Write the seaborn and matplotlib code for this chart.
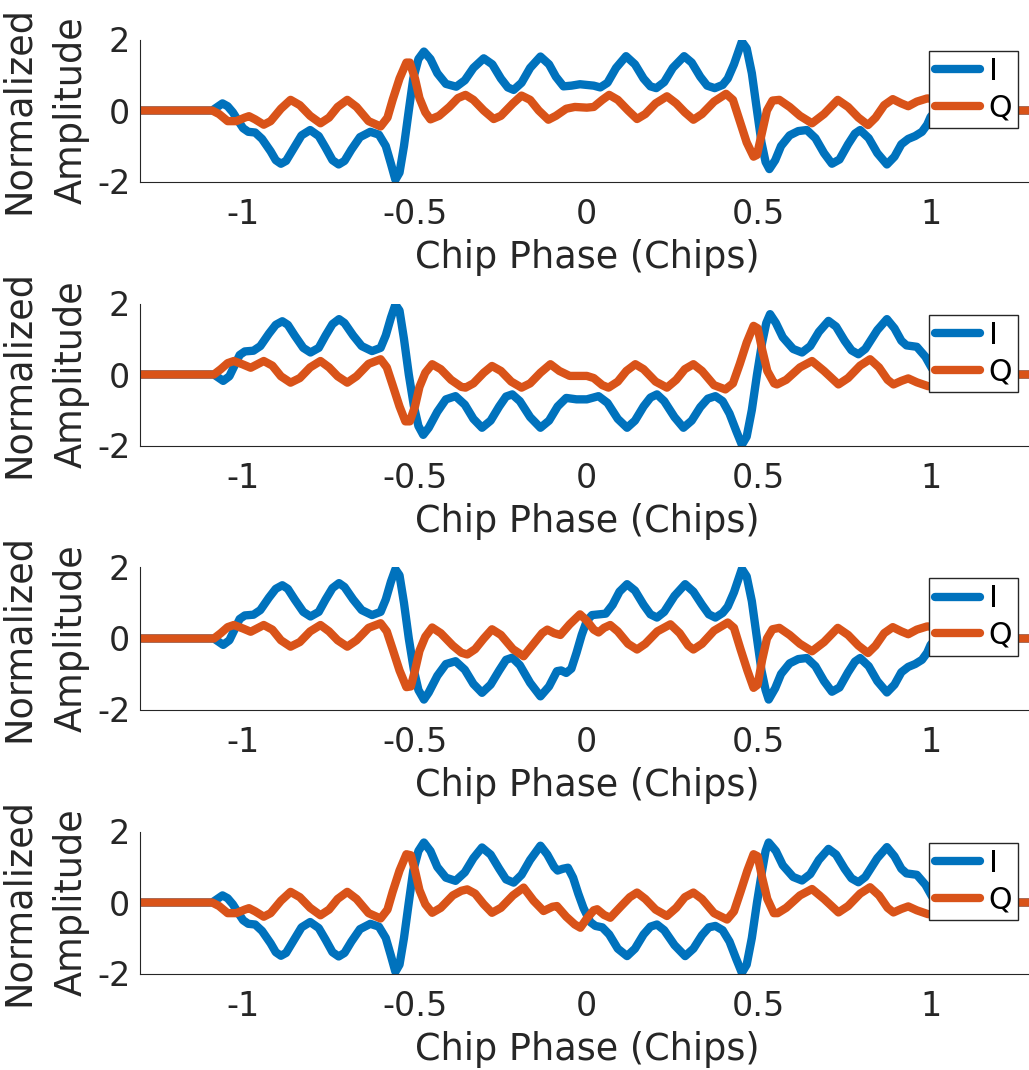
import matplotlib
matplotlib.use("Agg")
import matplotlib.pyplot as plt
import pandas as pd
import seaborn as sns

# Valores: (fase do chip, amplitude normalizada)
# Painel 1
i_painel1 = [(-1.30, 0.0), (-1.09, 0.0), (-1.075, 0.1), (-1.06, 0.2), (-1.045, 0.12), (-1.03, -0.05),
             (-1.015, -0.28), (-1.0, -0.5), (-0.985, -0.6), (-0.965, -0.62), (-0.945, -0.8), (-0.92, -1.15),
             (-0.905, -1.4), (-0.89, -1.5), (-0.875, -1.42), (-0.855, -1.1), (-0.83, -0.7), (-0.805, -0.55),
             (-0.78, -0.72), (-0.76, -1.05), (-0.74, -1.4), (-0.722, -1.52), (-0.705, -1.42), (-0.685, -1.1),
             (-0.66, -0.75), (-0.63, -0.6), (-0.605, -0.68), (-0.585, -1.0), (-0.57, -1.5), (-0.557, -1.95),
             (-0.545, -1.75), (-0.532, -1.0), (-0.518, 0.0), (-0.505, 0.9), (-0.49, 1.45), (-0.474, 1.66),
             (-0.455, 1.45), (-0.435, 1.05), (-0.41, 0.75), (-0.38, 0.67), (-0.355, 0.85), (-0.33, 1.2),
             (-0.30, 1.47), (-0.275, 1.3), (-0.25, 0.9), (-0.23, 0.65), (-0.213, 0.58), (-0.19, 0.78),
             (-0.165, 1.2), (-0.135, 1.52), (-0.11, 1.3), (-0.09, 0.95), (-0.068, 0.68), (-0.045, 0.7),
             (-0.02, 0.74), (0.0, 0.72), (0.02, 0.7), (0.039, 0.65), (0.06, 0.78), (0.085, 1.2), (0.114, 1.53),
             (0.14, 1.3), (0.165, 0.9), (0.185, 0.68), (0.202, 0.63), (0.225, 0.8), (0.25, 1.2), (0.283, 1.53),
             (0.305, 1.35), (0.33, 0.95), (0.35, 0.7), (0.372, 0.63), (0.395, 0.72), (0.41, 0.9), (0.428, 1.3),
             (0.451, 1.94), (0.465, 1.75), (0.48, 1.05), (0.495, 0.0), (0.508, -0.9), (0.52, -1.45),
             (0.531, -1.65), (0.548, -1.4), (0.565, -1.0), (0.59, -0.7), (0.615, -0.58), (0.64, -0.55),
             (0.665, -0.78), (0.69, -1.2), (0.713, -1.5), (0.735, -1.38), (0.76, -0.95), (0.78, -0.65),
             (0.795, -0.55), (0.82, -0.78), (0.845, -1.2), (0.873, -1.52), (0.895, -1.3), (0.915, -0.95),
             (0.935, -0.8), (0.955, -0.72), (0.975, -0.6), (0.99, -0.4), (1.0, -0.18), (1.02, 0.05),
             (1.045, 0.18), (1.065, 0.1), (1.09, 0.0), (1.30, 0.0)]
q_painel1 = [(-1.30, 0.0), (-1.09, 0.0), (-1.07, -0.1), (-1.045, -0.3), (-1.02, -0.3), (-0.995, -0.2),
             (-0.983, -0.16), (-0.965, -0.25), (-0.94, -0.4), (-0.92, -0.3), (-0.89, 0.05), (-0.862, 0.3),
             (-0.835, 0.15), (-0.805, -0.15), (-0.775, -0.36), (-0.75, -0.2), (-0.725, 0.1), (-0.697, 0.3),
             (-0.67, 0.1), (-0.635, -0.3), (-0.6, -0.45), (-0.58, -0.2), (-0.565, 0.3), (-0.545, 0.9),
             (-0.525, 1.35), (-0.515, 1.35), (-0.5, 0.9), (-0.487, 0.35), (-0.47, -0.05), (-0.455, -0.25),
             (-0.43, -0.15), (-0.4, 0.1), (-0.375, 0.35), (-0.353, 0.44), (-0.33, 0.3), (-0.3, 0.0),
             (-0.271, -0.24), (-0.25, -0.15), (-0.215, 0.2), (-0.19, 0.42), (-0.165, 0.3), (-0.14, 0.0),
             (-0.112, -0.26), (-0.09, -0.15), (-0.06, 0.05), (-0.035, 0.1), (0.0, 0.08), (0.02, 0.1),
             (0.045, 0.3), (0.065, 0.44), (0.09, 0.3), (0.12, 0.0), (0.146, -0.24), (0.17, -0.1), (0.2, 0.2),
             (0.233, 0.4), (0.26, 0.2), (0.285, -0.05), (0.31, -0.26), (0.335, -0.1), (0.37, 0.25),
             (0.405, 0.47), (0.425, 0.3), (0.445, -0.3), (0.465, -0.9), (0.485, -1.3), (0.495, -1.25),
             (0.51, -0.6), (0.524, 0.0), (0.54, 0.28), (0.56, 0.3), (0.59, 0.1), (0.62, -0.15), (0.655, -0.36),
             (0.69, -0.1), (0.73, 0.3), (0.76, 0.1), (0.79, -0.2), (0.818, -0.41), (0.84, -0.2), (0.865, 0.15),
             (0.89, 0.32), (0.915, 0.2), (0.935, 0.12), (0.96, 0.25), (0.99, 0.34), (1.02, 0.32), (1.045, 0.3),
             (1.07, 0.1), (1.09, 0.0), (1.30, 0.0)]

# Painel 2
i_painel2 = [(-1.30, 0.0), (-1.085, 0.0), (-1.07, -0.1), (-1.058, -0.18), (-1.04, -0.05), (-1.025, 0.25),
             (-1.01, 0.55), (-0.995, 0.65), (-0.97, 0.67), (-0.95, 0.8), (-0.925, 1.15), (-0.905, 1.4),
             (-0.886, 1.5), (-0.87, 1.4), (-0.85, 1.1), (-0.825, 0.75), (-0.804, 0.62), (-0.78, 0.75),
             (-0.76, 1.1), (-0.74, 1.42), (-0.721, 1.56), (-0.705, 1.45), (-0.68, 1.1), (-0.655, 0.8),
             (-0.625, 0.66), (-0.6, 0.75), (-0.585, 1.1), (-0.57, 1.6), (-0.557, 1.97), (-0.545, 1.8),
             (-0.532, 1.0), (-0.518, 0.0), (-0.503, -0.9), (-0.49, -1.45), (-0.476, -1.7), (-0.46, -1.5),
             (-0.435, -1.05), (-0.41, -0.7), (-0.382, -0.61), (-0.355, -0.85), (-0.33, -1.25), (-0.305, -1.5),
             (-0.28, -1.3), (-0.255, -0.9), (-0.235, -0.62), (-0.217, -0.56), (-0.195, -0.75), (-0.165, -1.2),
             (-0.135, -1.5), (-0.11, -1.3), (-0.085, -0.9), (-0.06, -0.66), (-0.03, -0.7), (0.0, -0.7),
             (0.034, -0.61), (0.06, -0.8), (0.09, -1.25), (0.117, -1.5), (0.14, -1.3), (0.165, -0.9),
             (0.185, -0.65), (0.204, -0.56), (0.225, -0.75), (0.255, -1.2), (0.281, -1.5), (0.305, -1.3),
             (0.33, -0.92), (0.352, -0.68), (0.374, -0.61), (0.395, -0.75), (0.415, -1.1), (0.435, -1.6),
             (0.451, -1.98), (0.465, -1.75), (0.48, -1.0), (0.495, 0.0), (0.51, 0.9), (0.522, 1.45),
             (0.533, 1.7), (0.55, 1.45), (0.57, 1.05), (0.6, 0.72), (0.626, 0.62), (0.65, 0.8), (0.675, 1.2),
             (0.703, 1.51), (0.725, 1.35), (0.75, 0.95), (0.77, 0.68), (0.79, 0.57), (0.81, 0.72),
             (0.845, 1.25), (0.873, 1.56), (0.895, 1.3), (0.915, 0.95), (0.93, 0.82), (0.96, 0.78),
             (0.985, 0.5), (1.003, 0.19), (1.02, -0.05), (1.045, -0.18), (1.065, -0.1), (1.09, 0.0), (1.30, 0.0)]
q_painel2 = [(-1.30, 0.0), (-1.085, 0.0), (-1.065, 0.15), (-1.045, 0.32), (-1.027, 0.38), (-1.0, 0.28),
             (-0.978, 0.19), (-0.96, 0.28), (-0.94, 0.38), (-0.915, 0.25), (-0.89, -0.05), (-0.862, -0.23),
             (-0.835, -0.1), (-0.805, 0.2), (-0.775, 0.38), (-0.75, 0.2), (-0.725, -0.05), (-0.697, -0.23),
             (-0.67, -0.05), (-0.635, 0.3), (-0.6, 0.43), (-0.582, 0.2), (-0.565, -0.3), (-0.545, -0.9),
             (-0.528, -1.32), (-0.515, -1.32), (-0.5, -0.9), (-0.487, -0.35), (-0.47, 0.05), (-0.45, 0.29),
             (-0.425, 0.15), (-0.395, -0.15), (-0.365, -0.35), (-0.353, -0.37), (-0.33, -0.25), (-0.3, 0.05),
             (-0.276, 0.24), (-0.25, 0.1), (-0.22, -0.2), (-0.19, -0.37), (-0.165, -0.25), (-0.135, 0.05),
             (-0.106, 0.29), (-0.08, 0.1), (-0.05, -0.04), (0.0, -0.04), (0.02, -0.1), (0.045, -0.3),
             (0.063, -0.37), (0.09, -0.2), (0.115, 0.1), (0.141, 0.29), (0.165, 0.15), (0.2, -0.2),
             (0.233, -0.37), (0.26, -0.15), (0.285, 0.15), (0.31, 0.29), (0.335, 0.1), (0.37, -0.3),
             (0.403, -0.42), (0.425, -0.25), (0.445, 0.3), (0.465, 0.9), (0.485, 1.37), (0.497, 1.3),
             (0.51, 0.7), (0.525, 0.1), (0.545, -0.25), (0.553, -0.28), (0.58, -0.15), (0.62, 0.2),
             (0.655, 0.38), (0.69, 0.1), (0.732, -0.28), (0.76, -0.1), (0.795, 0.25), (0.824, 0.43),
             (0.85, 0.2), (0.875, -0.15), (0.892, -0.28), (0.915, -0.18), (0.935, -0.11), (0.96, -0.22),
             (0.993, -0.33), (1.02, -0.32), (1.045, -0.3), (1.07, -0.1), (1.09, 0.0), (1.30, 0.0)]

# Painel 3
i_painel3 = [(-1.30, 0.0), (-1.085, 0.0), (-1.07, -0.1), (-1.058, -0.18), (-1.04, -0.05), (-1.025, 0.25),
             (-1.01, 0.55), (-0.995, 0.65), (-0.97, 0.67), (-0.95, 0.8), (-0.925, 1.15), (-0.905, 1.4),
             (-0.886, 1.5), (-0.87, 1.4), (-0.85, 1.1), (-0.825, 0.75), (-0.804, 0.62), (-0.78, 0.75),
             (-0.76, 1.1), (-0.74, 1.42), (-0.721, 1.56), (-0.705, 1.45), (-0.68, 1.1), (-0.655, 0.8),
             (-0.625, 0.66), (-0.6, 0.75), (-0.585, 1.1), (-0.57, 1.6), (-0.557, 1.95), (-0.545, 1.78),
             (-0.532, 1.0), (-0.518, 0.0), (-0.503, -0.9), (-0.49, -1.45), (-0.474, -1.72), (-0.46, -1.52),
             (-0.435, -1.05), (-0.41, -0.72), (-0.382, -0.64), (-0.355, -0.88), (-0.33, -1.28), (-0.305, -1.53),
             (-0.28, -1.3), (-0.255, -0.9), (-0.235, -0.6), (-0.217, -0.54), (-0.195, -0.75), (-0.165, -1.25),
             (-0.135, -1.63), (-0.11, -1.35), (-0.087, -0.92), (-0.075, -0.9), (-0.06, -0.97), (-0.045, -0.85),
             (-0.03, -0.4), (-0.015, 0.1), (0.0, 0.5), (0.015, 0.66), (0.035, 0.68), (0.055, 0.7),
             (0.075, 0.95), (0.095, 1.32), (0.117, 1.53), (0.14, 1.35), (0.165, 0.95), (0.185, 0.68),
             (0.204, 0.59), (0.225, 0.75), (0.255, 1.2), (0.286, 1.53), (0.31, 1.32), (0.335, 0.95),
             (0.355, 0.68), (0.374, 0.59), (0.395, 0.72), (0.41, 0.9), (0.428, 1.3), (0.451, 1.96),
             (0.465, 1.75), (0.48, 1.05), (0.495, 0.0), (0.508, -0.9), (0.52, -1.45), (0.529, -1.72),
             (0.548, -1.4), (0.565, -1.0), (0.59, -0.7), (0.615, -0.58), (0.64, -0.55), (0.665, -0.78),
             (0.69, -1.2), (0.713, -1.5), (0.735, -1.38), (0.76, -0.95), (0.78, -0.65), (0.795, -0.55),
             (0.82, -0.78), (0.845, -1.2), (0.873, -1.52), (0.895, -1.3), (0.915, -0.95), (0.935, -0.8),
             (0.955, -0.72), (0.975, -0.6), (0.99, -0.4), (1.0, -0.18), (1.02, 0.05), (1.045, 0.18),
             (1.065, 0.1), (1.09, 0.0), (1.30, 0.0)]
q_painel3 = [(-1.30, 0.0), (-1.085, 0.0), (-1.065, 0.15), (-1.045, 0.32), (-1.027, 0.38), (-1.0, 0.28),
             (-0.978, 0.19), (-0.96, 0.28), (-0.94, 0.38), (-0.915, 0.25), (-0.89, -0.05), (-0.862, -0.23),
             (-0.835, -0.1), (-0.805, 0.2), (-0.775, 0.38), (-0.75, 0.2), (-0.725, -0.05), (-0.697, -0.23),
             (-0.67, -0.05), (-0.635, 0.3), (-0.6, 0.43), (-0.582, 0.2), (-0.565, -0.3), (-0.545, -0.9),
             (-0.525, -1.37), (-0.512, -1.35), (-0.5, -0.9), (-0.487, -0.35), (-0.47, 0.05), (-0.45, 0.31),
             (-0.425, 0.15), (-0.39, -0.2), (-0.365, -0.4), (-0.348, -0.45), (-0.325, -0.3), (-0.3, 0.0),
             (-0.276, 0.26), (-0.25, 0.1), (-0.215, -0.3), (-0.184, -0.5), (-0.155, -0.15), (-0.13, 0.15),
             (-0.115, 0.25), (-0.095, 0.15), (-0.077, 0.1), (-0.05, 0.4), (-0.02, 0.68), (0.0, 0.5),
             (0.02, 0.25), (0.034, 0.17), (0.05, 0.3), (0.068, 0.38), (0.09, 0.2), (0.12, -0.15),
             (0.146, -0.31), (0.17, -0.15), (0.205, 0.2), (0.243, 0.4), (0.27, 0.15), (0.295, -0.2),
             (0.31, -0.31), (0.335, -0.15), (0.37, 0.22), (0.41, 0.45), (0.428, 0.3), (0.447, -0.3),
             (0.467, -0.9), (0.485, -1.39), (0.497, -1.3), (0.51, -0.6), (0.524, 0.0), (0.54, 0.26),
             (0.56, 0.3), (0.59, 0.1), (0.62, -0.15), (0.655, -0.36), (0.69, -0.1), (0.73, 0.3), (0.76, 0.1),
             (0.79, -0.2), (0.818, -0.41), (0.84, -0.2), (0.865, 0.15), (0.89, 0.32), (0.915, 0.2),
             (0.935, 0.12), (0.96, 0.25), (0.99, 0.34), (1.02, 0.32), (1.045, 0.3), (1.07, 0.1), (1.09, 0.0),
             (1.30, 0.0)]

# Painel 4
i_painel4 = [(-1.30, 0.0), (-1.09, 0.0), (-1.075, 0.1), (-1.06, 0.2), (-1.045, 0.12), (-1.03, -0.05),
             (-1.015, -0.28), (-1.0, -0.5), (-0.985, -0.6), (-0.965, -0.62), (-0.945, -0.8), (-0.92, -1.15),
             (-0.905, -1.4), (-0.89, -1.5), (-0.875, -1.42), (-0.855, -1.1), (-0.83, -0.7), (-0.805, -0.55),
             (-0.78, -0.72), (-0.76, -1.05), (-0.74, -1.4), (-0.722, -1.52), (-0.705, -1.42), (-0.685, -1.1),
             (-0.66, -0.75), (-0.63, -0.6), (-0.605, -0.68), (-0.585, -1.0), (-0.57, -1.5), (-0.557, -1.95),
             (-0.545, -1.75), (-0.532, -1.0), (-0.518, 0.0), (-0.505, 0.9), (-0.49, 1.45), (-0.474, 1.69),
             (-0.455, 1.45), (-0.435, 1.0), (-0.41, 0.7), (-0.382, 0.61), (-0.355, 0.85), (-0.33, 1.25),
             (-0.305, 1.55), (-0.28, 1.35), (-0.255, 0.95), (-0.235, 0.65), (-0.213, 0.56), (-0.19, 0.78),
             (-0.165, 1.2), (-0.135, 1.6), (-0.115, 1.35), (-0.095, 1.0), (-0.085, 0.9), (-0.07, 0.95),
             (-0.055, 0.98), (-0.04, 0.7), (-0.025, 0.25), (-0.01, -0.15), (0.01, -0.55), (0.025, -0.66),
             (0.045, -0.7), (0.065, -0.9), (0.09, -1.3), (0.117, -1.51), (0.14, -1.3), (0.165, -0.9),
             (0.185, -0.68), (0.204, -0.62), (0.225, -0.78), (0.255, -1.2), (0.286, -1.51), (0.31, -1.3),
             (0.335, -0.92), (0.355, -0.7), (0.374, -0.66), (0.395, -0.78), (0.415, -1.1), (0.435, -1.6),
             (0.451, -1.98), (0.465, -1.75), (0.48, -1.0), (0.495, 0.0), (0.51, 0.9), (0.52, 1.45),
             (0.529, 1.69), (0.55, 1.45), (0.57, 1.05), (0.6, 0.72), (0.626, 0.62), (0.65, 0.8), (0.675, 1.2),
             (0.703, 1.51), (0.725, 1.35), (0.75, 0.95), (0.77, 0.68), (0.79, 0.57), (0.81, 0.72),
             (0.845, 1.25), (0.873, 1.56), (0.895, 1.3), (0.915, 0.95), (0.93, 0.82), (0.96, 0.78),
             (0.985, 0.5), (1.003, 0.19), (1.02, -0.05), (1.045, -0.18), (1.065, -0.1), (1.09, 0.0), (1.30, 0.0)]
q_painel4 = [(-1.30, 0.0), (-1.09, 0.0), (-1.07, -0.1), (-1.045, -0.3), (-1.02, -0.3), (-0.995, -0.2),
             (-0.983, -0.16), (-0.965, -0.25), (-0.94, -0.4), (-0.92, -0.3), (-0.89, 0.05), (-0.862, 0.3),
             (-0.835, 0.15), (-0.805, -0.15), (-0.775, -0.36), (-0.75, -0.2), (-0.725, 0.1), (-0.697, 0.3),
             (-0.67, 0.1), (-0.635, -0.3), (-0.6, -0.45), (-0.58, -0.2), (-0.565, 0.3), (-0.545, 0.9),
             (-0.525, 1.36), (-0.512, 1.33), (-0.5, 0.9), (-0.487, 0.35), (-0.47, -0.05), (-0.45, -0.29),
             (-0.425, -0.15), (-0.39, 0.2), (-0.365, 0.33), (-0.348, 0.37), (-0.325, 0.25), (-0.3, -0.05),
             (-0.276, -0.29), (-0.25, -0.15), (-0.215, 0.2), (-0.184, 0.42), (-0.155, 0.05), (-0.126, -0.24),
             (-0.1, -0.12), (-0.087, -0.1), (-0.06, -0.4), (-0.035, -0.62), (-0.019, -0.71), (0.0, -0.45),
             (0.02, -0.22), (0.03, -0.19), (0.05, -0.35), (0.068, -0.43), (0.1, -0.1), (0.125, 0.15),
             (0.146, 0.28), (0.17, 0.1), (0.2, -0.2), (0.233, -0.38), (0.26, -0.15), (0.285, 0.15),
             (0.31, 0.28), (0.335, 0.1), (0.37, -0.3), (0.408, -0.48), (0.428, -0.25), (0.447, 0.3),
             (0.467, 0.9), (0.485, 1.36), (0.497, 1.3), (0.51, 0.7), (0.525, 0.1), (0.544, -0.3),
             (0.555, -0.3), (0.58, -0.15), (0.62, 0.2), (0.655, 0.38), (0.69, 0.1), (0.732, -0.28),
             (0.76, -0.1), (0.795, 0.25), (0.824, 0.43), (0.85, 0.2), (0.875, -0.15), (0.892, -0.28),
             (0.915, -0.18), (0.935, -0.11), (0.96, -0.22), (0.993, -0.33), (1.02, -0.32), (1.045, -0.3),
             (1.07, -0.1), (1.09, 0.0), (1.30, 0.0)]

ticks_x = [-1, -0.5, 0, 0.5, 1]
rotulos_x = ['-1', '-0.5', '0', '0.5', '1']
ticks_y = [-2, 0, 2]
rotulos_y = ['-2', '0', '2']

paineis = [(i_painel1, q_painel1), (i_painel2, q_painel2),
           (i_painel3, q_painel3), (i_painel4, q_painel4)]

sns.set_style("white")
plt.rcParams['font.family'] = ['DejaVu Sans']
plt.rcParams['axes.unicode_minus'] = False

cores = {'I': '#0072BD', 'Q': '#D95319'}
cinza = '#262626'

W, H = 1029, 1070
fig = plt.figure(figsize=(W / 100, H / 100), dpi=100)

for k, (sinal_i, sinal_q) in enumerate(paineis):
    topo = 39.5 + 264 * k
    ax = fig.add_axes([140 / W, 1 - (topo + 142) / H, 893.7 / W, 142 / H])

    df = pd.concat([
        pd.DataFrame(sinal_i, columns=['x', 'y']).assign(sinal='I'),
        pd.DataFrame(sinal_q, columns=['x', 'y']).assign(sinal='Q'),
    ], ignore_index=True)

    sns.lineplot(data=df, x='x', y='y', hue='sinal', hue_order=['I', 'Q'],
                 palette=cores, estimator=None, sort=False, lw=6,
                 legend=False, ax=ax, solid_joinstyle='round')

    ax.set_xlim(-1.3, 1.3)
    ax.set_ylim(-2, 2)
    ax.set_xticks(ticks_x, labels=rotulos_x)
    ax.set_yticks(ticks_y, labels=rotulos_y)

    for lado in ['top', 'right']:
        ax.spines[lado].set_visible(False)
    for lado in ['left', 'bottom']:
        ax.spines[lado].set_color(cinza)
        ax.spines[lado].set_linewidth(0.8)

    ax.tick_params(direction='in', length=5.8, width=0.8, color=cinza,
                   labelcolor=cinza, labelsize=24)
    ax.tick_params(axis='x', pad=12)
    ax.tick_params(axis='y', pad=7)

    ax.set_xlabel('Chip Phase (Chips)', fontsize=26.4, color=cinza, labelpad=6)
    ax.set_ylabel('Normalized\nAmplitude', fontsize=26.4, color=cinza,
                  labelpad=5, linespacing=1.55)

    leg = ax.legend(handles=ax.lines[:2], labels=['I', 'Q'], loc='upper right',
                    bbox_to_anchor=((1018 - 140) / 893.7, 1 - 11 / 142),
                    borderaxespad=0, fontsize=21.6, fancybox=False,
                    framealpha=1, edgecolor=cinza, handlelength=1.5,
                    handletextpad=0.3, borderpad=0.2, labelspacing=0.25)
    leg.get_frame().set_linewidth(1.0)
    for t in leg.get_texts():
        t.set_color('black')

fig.savefig('out.png', dpi=100)
